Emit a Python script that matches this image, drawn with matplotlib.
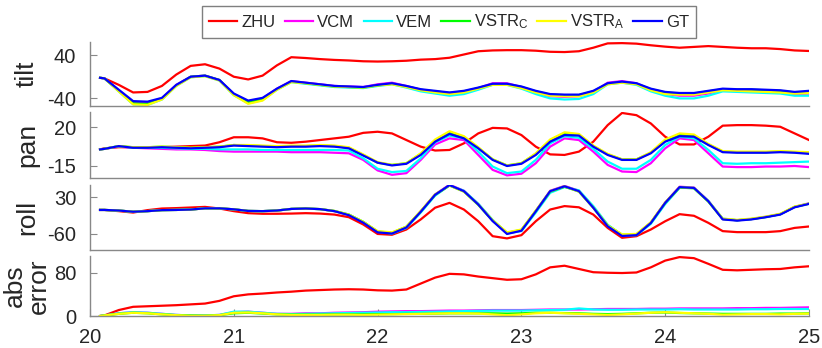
import matplotlib
matplotlib.use("Agg")
import matplotlib.pyplot as plt

plt.rcParams['font.family'] = ['Liberation Sans', 'DejaVu Sans']
plt.rcParams['mathtext.default'] = 'regular'
plt.rcParams['axes.unicode_minus'] = False

# ---------------- data ----------------
T = [20.07, 20.1, 20.2, 20.3, 20.4, 20.5, 20.6, 20.7, 20.8, 20.9,
     21.0, 21.1, 21.2, 21.3, 21.4, 21.5, 21.6, 21.7, 21.8, 21.9,
     22.0, 22.1, 22.2, 22.3, 22.4, 22.5, 22.6, 22.7, 22.8, 22.9,
     23.0, 23.1, 23.2, 23.3, 23.4, 23.5, 23.6, 23.7, 23.8, 23.9,
     24.0, 24.1, 24.2, 24.3, 24.4, 24.5, 24.6, 24.7, 24.8, 24.9, 25.0]

series_names = ['ZHU', 'VCM', 'VEM', 'VSTR$_C$', 'VSTR$_A$', 'GT']
series_colors = ['#ff0000', '#ff00ff', '#00ffff', '#00ff00', '#ffff00', '#0000ff']

tilt_zhu = [-2, -3, -15, -29, -28, -17, 4, 20, 23, 15,
            0, -5, 2, 21, 36, 34.5, 32.5, 31, 30, 28.5,
            28, 28.5, 29.5, 31.5, 32.5, 35, 41, 47, 48.5, 49,
            49, 48, 46, 45.5, 47, 53.5, 61.5, 62, 61, 58,
            55.5, 53.5, 55, 56.5, 55, 53.5, 52.5, 52.5, 51, 48.5, 47.5]
tilt_vcm = [-2, -3, -25, -47, -48, -40, -15, 0, 2, -6,
            -32, -46, -40, -22, -8, -11, -14, -17, -18, -19,
            -14, -11, -17, -24, -28, -33, -30, -21, -12, -12,
            -19, -29, -36, -37, -36, -28, -11, -8, -12, -24,
            -32, -35, -35, -31, -24, -25, -26, -27, -29, -32, -31]
tilt_vem = [-2, -3, -27, -51, -52, -42, -17, -1, 1, -7,
            -34, -49, -43, -24, -10, -13, -16, -19, -20, -21,
            -17, -14, -20, -27, -31, -35, -32, -24, -15, -15,
            -22, -32, -40, -42, -41, -32, -14, -11, -15, -27,
            -35, -40, -40, -35, -27, -28, -29, -30, -31, -35, -35]
tilt_vstrc = [-2, -3, -26, -49, -50, -41, -16, 0, 2, -6,
              -33, -47, -41, -23, -9, -12, -15, -18, -19, -20,
              -16, -13, -18, -24, -27, -30, -27, -21, -14, -14,
              -19, -27, -33, -34, -34, -27, -13, -10, -13, -23,
              -29, -31, -31, -27, -23, -24, -24, -25, -26, -29, -28]
tilt_vstra = [-2, -3, -27, -51, -52, -42, -17, -1, 1, -7,
              -34, -50, -44, -24, -10, -12, -15, -18, -19, -20,
              -16, -14, -19, -25, -29, -32, -29, -22, -15, -15,
              -21, -29, -35, -36, -36, -29, -14, -11, -14, -25,
              -32, -33, -33, -29, -25, -26, -27, -28, -29, -31, -30]
tilt_gt = [-2, -3, -24, -45, -46, -39, -15, 0, 2, -6,
           -31, -44, -39, -22, -8, -11, -14, -17, -18, -19,
           -15, -12, -17, -23, -26, -29, -26, -20, -13, -13,
           -18, -26, -32, -33, -33, -26, -12, -9, -12, -22,
           -28, -30, -30, -26, -22, -23, -23, -24, -25, -28, -26]

pan_zhu = [0, 1, 2, 2, 2, 2, 2.5, 3, 3.5, 6.5,
           11, 11, 10, 6.5, 6, 7, 8.5, 10, 11.5, 15,
           16, 14.5, 8.5, 2.5, -1, -0.5, 5.5, 14.5, 19.5, 19,
           13, 2.5, -4.5, -5, -2, 7, 22, 33, 31, 23.5,
           11.5, 4.5, 4.5, 11.5, 21.5, 22, 22, 21.5, 20.5, 14.5, 8.5]
pan_vcm = [0, 0.5, 2.5, 1.5, 1, 0.5, 0, 0, -0.5, -1.5,
           -2, -2, -2, -2, -2.5, -2.5, -2.5, -3, -3.5, -9.5,
           -19, -23, -21.5, -9.5, 4.5, 10, 8.5, -5, -18.5, -23.5,
           -22, -12.5, 2.5, 10, 8.5, -2, -14, -20, -20.5, -12.5,
           1, 10, 8.5, -3.5, -15.5, -16, -16, -15.5, -15.5, -15, -16]
pan_vem = [0, 0.5, 3, 1.5, 1.5, 1.5, 1, 0.5, 0.5, 0,
           0, 0, -0.5, -0.5, -0.5, -0.5, -0.5, -0.5, -1, -8,
           -17.5, -20.5, -19.5, -8, 6.5, 12.5, 10, -2, -15.5, -21.5,
           -20, -9.5, 5.5, 12, 10.5, 0.5, -11, -17.5, -17.5, -9.5,
           4, 11.5, 10, -0.5, -12.5, -13, -12.5, -12.5, -12, -11.5, -11]
pan_vstrc = [0, 0.5, 3, 2, 2, 2.5, 2, 1.5, 2, 2.5,
             4, 3.5, 3, 2.5, 3, 3, 3.5, 3, 1.5, -5,
             -12, -14, -12.5, -4, 8, 15.5, 11, 1.5, -9, -14.5,
             -12.5, -4, 8, 14.5, 13.5, 3, -4.5, -9, -9, -3,
             8, 13.5, 12.5, 4.5, -2, -2.5, -2.5, -2.5, -2, -2.5, -3]
pan_vstra = [0, 0.5, 3, 2, 2, 2.5, 2, 1.5, 2, 2.5,
             4, 4, 3.5, 3, 3.5, 3.5, 4, 3.5, 2, -4.5,
             -11.5, -14, -12.5, -3.5, 9, 16.5, 12, 2, -9, -14.5,
             -12.5, -3.5, 9, 15.5, 14, 3.5, -4, -9, -9, -2.5,
             9, 14.5, 13.5, 5, -1.5, -2, -2, -2, -1.5, -2, -2.5]
pan_gt = [0, 0.5, 3, 1.5, 1.5, 2, 1.5, 1, 1.5, 2,
          3.5, 3, 2.5, 2, 2.5, 2.5, 3, 2.5, 1, -5.5,
          -12, -14.5, -13, -5, 7, 14, 10, 1, -9.5, -15,
          -13, -5, 7, 13, 12.5, 2.5, -5, -9.5, -9.5, -3.5,
          7, 12, 11.5, 4, -2.5, -3, -3, -3, -2.5, -3, -4]

roll_zhu = [-1.5, -1.5, -4.5, -8, -2, 2, 3, 4.5, 6, 2,
            -4.5, -9.5, -11, -11, -10.5, -9.5, -10.5, -13, -19.5, -37.5,
            -61, -63, -50, -25, 4, 16, -0.5, -29.5, -66.5, -72,
            -64, -29.5, -0.5, 8, 5, -13, -46, -70.5, -66.5, -50,
            -29.5, -12, -16, -33.5, -54, -56.5, -56.5, -56.5, -54, -46, -42.5]
roll_vcm = [-1.5, -1.5, -3, -6, -4.5, -2, -1.5, -0.5, 2.5, 2.5,
            0, -4, -4.5, -3, 1, 2, 0.5, -4.5, -14, -32,
            -56, -59, -44, -5, 37, 61, 46, 13, -28, -60,
            -52, -4, 46, 58, 46, 5, -41, -65, -63, -33,
            17, 56, 54, 21, -24, -27, -24, -18.5, -12, 6, 15]
roll_vem = [-1.5, -1.5, -3, -6, -4.5, -2, -1.5, -0.5, 2.5, 2.5,
            0, -4, -4.5, -3, 1, 2, 0.5, -4.5, -13, -31,
            -55, -60, -46, -8, 34, 59, 46, 14, -26, -59,
            -54, -8, 41, 55, 47, 8, -38, -64, -64, -36,
            13, 53, 53, 21, -23, -27, -24, -19, -12, 6, 14]
roll_vstrc = [-1.5, -1.5, -3, -6, -4.5, -2, -1.5, -0.5, 2.5, 2.5,
              0, -4, -4.5, -3, 1, 2, 0.5, -4, -13, -31,
              -55, -58, -43, -5, 36, 59, 44, 11, -28, -58,
              -51, -4, 44, 56, 44, 4, -40, -63, -62, -33,
              16, 54, 52, 19, -24, -27, -24, -19, -12, 6, 14]
roll_vstra = [-1.5, -1.5, -3, -6, -4.5, -2, -1.5, -0.5, 2.5, 2.5,
              0, -4, -4.5, -3, 1, 2, 0.5, -4, -13, -31,
              -54, -57, -43, -4, 37, 59, 44, 12, -27, -57,
              -50, -3, 45, 57, 44, 4, -40, -62, -61, -32,
              17, 55, 53, 20, -23, -26, -23, -18, -11, 7, 14]
roll_gt = [-1.5, -1.5, -3, -6, -4.5, -2, -1.5, -0.5, 2.5, 2.5,
           0, -4, -4.5, -3, 1, 2, 0.5, -4.5, -14.5, -33,
           -57, -60, -45, -6, 36, 60, 45, 12, -29, -61,
           -53, -5, 45, 57, 45, 4, -42, -66, -64, -34,
           16, 55, 53, 20, -25, -28, -25, -19.5, -13, 5, 13.5]

err_zhu = [0, 1, 11, 17, 18, 19, 20, 21.5, 23, 28,
           36.5, 40, 41.5, 43.5, 45, 47, 48, 49, 49.5, 49,
           47.5, 47, 49, 60, 71, 78, 77, 73, 70, 67,
           68, 77, 90, 93, 87, 81, 80, 79.5, 80.5, 90,
           102.5, 109, 107, 96.5, 85.5, 84.5, 85.5, 86.5, 87, 90, 92]
err_vcm = [0, 1, 5, 7, 6, 4, 2, 1, 1, 2,
           7, 8, 6, 4, 4, 5, 5, 6, 6.5, 7,
           8, 8.5, 9, 9, 9.5, 10, 10, 10.5, 11, 11,
           11, 11.5, 12, 12, 12, 12.5, 13, 13, 13, 13.5,
           13.5, 14, 14, 14, 14, 14.5, 14.5, 15, 15, 15.5, 16]
err_vem = [0, 1, 5, 7, 6, 4, 2, 1, 1, 2,
           8, 8, 6, 4, 3.5, 4, 4.5, 5, 5.5, 6,
           6.5, 7, 7, 7.5, 8, 8.5, 9, 9.5, 10, 10,
           10, 10.5, 11, 11.5, 14, 12, 11.5, 11.5, 12, 12,
           12, 12.5, 12, 12, 12, 12, 12.5, 12.5, 13, 13, 13]
err_vstrc = [0, 1, 4, 6, 5, 3, 1.5, 1, 0.5, 1.5,
             5, 6, 4.5, 3, 2.5, 2.5, 2.5, 3, 3, 3,
             3.5, 3.5, 4, 4, 4.5, 5, 5, 5, 5, 4.5,
             5, 6, 6, 5.5, 5, 4, 3.5, 4, 5, 6,
             6.5, 5.5, 5, 4.5, 4, 4, 4, 4, 4.5, 4.5, 5]
err_vstra = [0, 1, 4, 6, 5, 3, 1.5, 0.5, 0.5, 1.5,
             6, 6.5, 5, 3, 2, 2, 2, 2.5, 2.5, 2,
             2.5, 3, 3.5, 4, 4.5, 5, 5, 4.5, 3, 1.5,
             3, 5, 6, 5, 4, 3, 2, 3, 4.5, 6,
             7, 6, 5, 4, 2.5, 3, 3.5, 3.5, 3, 4, 4.5]

panel_labels = ['tilt', 'pan', 'roll', 'abs\nerror']
panel_yticks = [[-40, 40], [-15, 20], [-60, 30], [0, 80]]
panel_ylims = [(-54, 63.5), (-25.6, 33.6), (-100, 61), (0, 111)]
x_ticks = [20, 21, 22, 23, 24, 25]

panel_series = [
    [tilt_zhu, tilt_vcm, tilt_vem, tilt_vstrc, tilt_vstra, tilt_gt],
    [pan_zhu, pan_vcm, pan_vem, pan_vstrc, pan_vstra, pan_gt],
    [roll_zhu, roll_vcm, roll_vem, roll_vstrc, roll_vstra, roll_gt],
    [err_zhu, err_vcm, err_vem, err_vstrc, err_vstra],
]

# ---------------- layout ----------------
W, H = 822, 348
fig = plt.figure(figsize=(W / 100, H / 100), dpi=100)
LEFT, RIGHT = 90, 809
panel_px = [(42.3, 106), (112.3, 177.7), (184.7, 249.7), (256, 316)]
spine_col = '#888888'
text_col = '#262626'

axes = []
for i, (top, bot) in enumerate(panel_px):
    ax = fig.add_axes([LEFT / W, 1 - bot / H, (RIGHT - LEFT) / W, (bot - top) / H])
    for vals, col in zip(panel_series[i], series_colors):
        ax.plot(T, vals, color=col, lw=1.6, solid_joinstyle='round')
    ax.set_xlim(20, 25)
    ax.set_ylim(*panel_ylims[i])
    ax.set_yticks(panel_yticks[i])
    ax.set_yticklabels([str(v) for v in panel_yticks[i]])
    for s in ['top', 'right']:
        ax.spines[s].set_visible(False)
    for s in ['left', 'bottom']:
        ax.spines[s].set_color(spine_col)
        ax.spines[s].set_linewidth(1.0)
    ax.tick_params(axis='both', direction='in', length=5, width=0.8,
                   color=spine_col, labelcolor=text_col, labelsize=14.5)
    ax.tick_params(axis='y', pad=10)
    if i < 3:
        ax.tick_params(axis='x', bottom=False, labelbottom=False)
    else:
        ax.set_xticks(x_ticks)
        ax.set_xticklabels([str(v) for v in x_ticks])
        ax.tick_params(axis='x', pad=8.5)
    ax.set_ylabel(panel_labels[i], fontsize=19, color=text_col, va='center',
                  linespacing=1.0)
    ax.yaxis.set_label_coords((27 - LEFT) / (RIGHT - LEFT), 0.5)
    ax.patch.set_visible(False)
    axes.append(ax)

handles = axes[0].get_lines()
leg = fig.legend(handles, series_names, loc='center', ncol=6,
                 bbox_to_anchor=(449 / W, 1 - 22 / H), fontsize=12,
                 handlelength=1.7, handletextpad=0.25, columnspacing=0.55,
                 borderpad=0.4, fancybox=False, frameon=True, framealpha=1,
                 edgecolor='#7f7f7f')
leg.get_frame().set_linewidth(1.0)
for t in leg.get_texts():
    t.set_color(text_col)

fig.savefig('out.png', dpi=100)
